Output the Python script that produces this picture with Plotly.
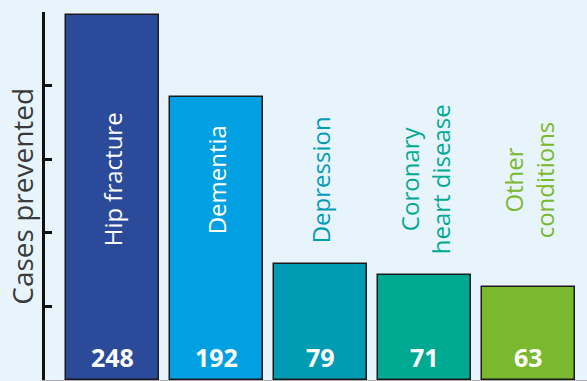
import plotly.graph_objects as go

# Cases prevented by condition
categories = ["Hip fracture", "Dementia", "Depression", "Coronary heart disease", "Other conditions"]
label_text = ["Hip fracture", "Dementia", "Depression", "Coronary<br>heart disease", "Other<br>conditions"]
cases = [248, 192, 79, 71, 63]
bar_colors = ["#2c4a9a", "#00a0e2", "#009cb4", "#00a992", "#7ab82e"]
name_colors = ["#ffffff", "#ffffff", "#009cb4", "#00a992", "#7ab82e"]
y_ticks = [0, 50, 100, 150, 200, 250]

FONT = "Open Sans"
BG = "#e8f4fc"

fig = go.Figure()
fig.add_trace(go.Bar(
    x=list(range(len(categories))),
    y=cases,
    width=0.894,
    marker=dict(color=bar_colors, line=dict(color="#1a1a1a", width=1.5)),
    hoverinfo="skip",
    showlegend=False,
))

# Condition names, rotated; the first two sit inside their bars
for i, (txt, col) in enumerate(zip(label_text, name_colors)):
    fig.add_annotation(
        x=i, y=136, text=txt, textangle=-90, showarrow=False,
        xanchor="center", yanchor="middle",
        font=dict(family=FONT, size=24, color=col),
    )

# Value labels at the foot of each bar
for i, v in enumerate(cases):
    fig.add_annotation(
        x=i, y=15.5, text=f"<b>{v}</b>", showarrow=False,
        xanchor="center", yanchor="middle",
        font=dict(family=FONT, size=25, color="#ffffff"),
    )

# Axis title
fig.add_annotation(
    xref="paper", yref="paper", x=-0.043, y=0.5,
    text="Cases prevented", textangle=-90, showarrow=False,
    xanchor="center", yanchor="middle",
    font=dict(family=FONT, size=28, color="#3a3a3a"),
)

fig.update_layout(
    width=587, height=381,
    margin=dict(l=45, r=0, t=12, b=1),
    paper_bgcolor=BG, plot_bgcolor=BG,
    bargap=0,
    xaxis=dict(
        range=[-0.649, 4.5625], showgrid=False, zeroline=False,
        showticklabels=False, ticks="",
        showline=True, linecolor="#aaaaaa", linewidth=2,
    ),
    yaxis=dict(
        range=[0, 250], tickvals=y_ticks, showgrid=False, zeroline=False,
        showticklabels=False, ticks="inside", ticklen=7, tickwidth=2.5,
        tickcolor="#111111",
        showline=True, linecolor="#111111", linewidth=2.5,
    ),
)

fig.write_html("out.html")
